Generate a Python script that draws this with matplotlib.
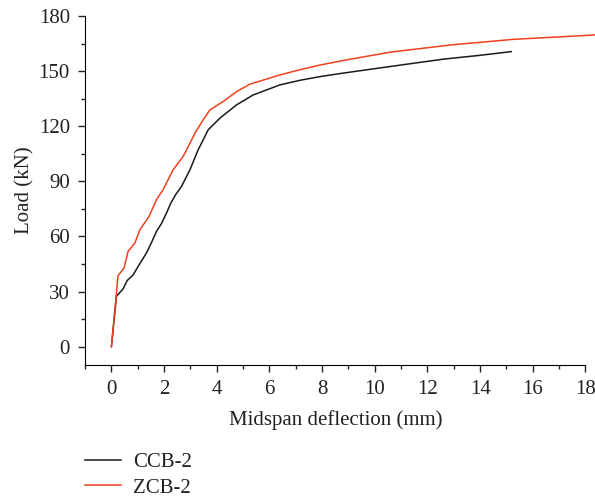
import matplotlib
matplotlib.use('Agg')
import matplotlib.pyplot as plt
from matplotlib.ticker import MultipleLocator

# load-deflection curves
ccb_x = [0, 0.19, 0.44, 0.6, 0.82, 1.05, 1.33, 1.5, 1.71, 1.9, 2.1, 2.25, 2.45, 2.66, 2.98, 3.29, 3.5, 3.67,
         4.12, 4.75, 5.38, 6.4, 7.16, 7.92, 8.6, 10.08, 12.6, 14.0, 15.18]
ccb_y = [0, 27.4, 31.4, 36, 39, 44.5, 51, 56, 62.7, 67, 73, 78, 83, 87.2, 96.2, 107.1, 113, 118,
         124.4, 131.6, 137, 142.5, 145, 147, 148.5, 151.5, 156.5, 158.6, 160.6]

zcb_x = [0, 0.25, 0.48, 0.63, 0.89, 1.08, 1.43, 1.71, 1.96, 2.34, 2.72, 2.85, 3.17, 3.48, 3.74,
         4.24, 4.75, 5.26, 6.4, 7.17, 7.92, 9.0, 10.58, 12.86, 15.27, 18.38]
zcb_y = [0, 38.6, 42.8, 51.8, 56.4, 63.6, 70.9, 80, 85.4, 96.2, 103.5, 107, 116.2, 123.4, 128.9,
         133.4, 138.8, 142.9, 147.9, 150.8, 153.3, 156.3, 160.3, 164.2, 167.3, 169.7]

plt.rcParams['font.family'] = ['Liberation Serif', 'DejaVu Serif']

fig = plt.figure(figsize=(5.95, 5.0), dpi=100)
ax = fig.add_axes([0.143, 0.27, 0.841, 0.698])

ax.plot(ccb_x, ccb_y, color='#1a1a1a', lw=1.1, label='CCB-2')
ax.plot(zcb_x, zcb_y, color='#f0401e', lw=1.1, label='ZCB-2', clip_on=False)

ax.set_xlim(-1, 18)
ax.set_ylim(-10, 180)
ax.xaxis.set_major_locator(MultipleLocator(2))
ax.xaxis.set_minor_locator(MultipleLocator(1))
ax.yaxis.set_major_locator(MultipleLocator(30))
ax.yaxis.set_minor_locator(MultipleLocator(15))
ax.spines['top'].set_visible(False)
ax.spines['right'].set_visible(False)
ax.tick_params(which='major', direction='out', length=5, width=1, color='#222222',
               labelcolor='#222222', labelsize=15, pad=6)
ax.tick_params(which='minor', direction='out', length=3, width=1, color='#222222')

ax.set_xlabel('Midspan deflection (mm)', fontsize=15, color='#222222', labelpad=8)
ax.set_ylabel('Load (kN)', fontsize=15, color='#222222', labelpad=3)

ax.legend(loc='upper left', bbox_to_anchor=(0, -0.25), frameon=False, fontsize=15,
          handlelength=1.7, handletextpad=0.6, labelspacing=0.3, borderaxespad=0, borderpad=0,
          labelcolor='#222222')

fig.savefig('out.png', dpi=100)
